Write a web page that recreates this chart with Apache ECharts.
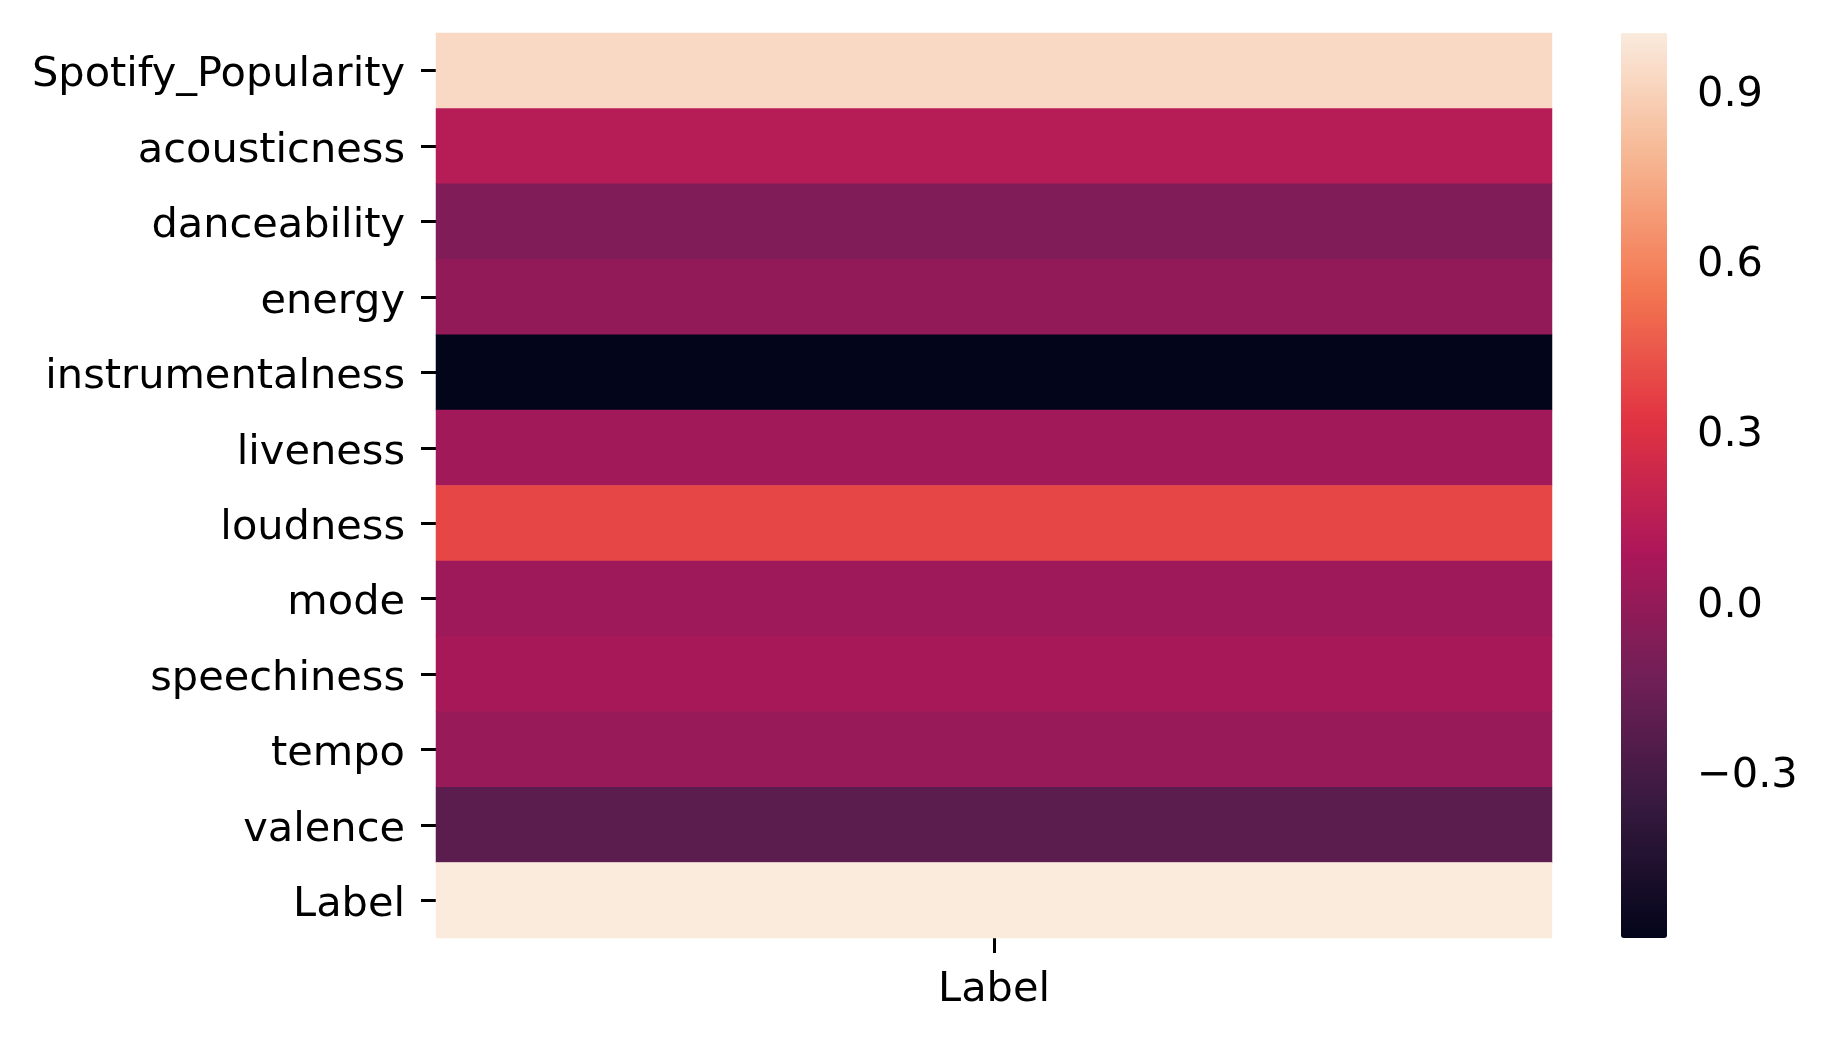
<!DOCTYPE html>
<html>
<head>
<meta charset="utf-8">
<script src="https://cdn.jsdelivr.net/npm/echarts@6/dist/echarts.min.js"></script>
<style>
html,body{margin:0;padding:0;background:#fff;}
#chart{width:1827px;height:1038px;}
</style>
</head>
<body>
<div id="chart"></div>
<script>
// Data
var features = ['Spotify_Popularity','acousticness','danceability','energy','instrumentalness','liveness','loudness','mode','speechiness','tempo','valence','Label'];
var columns = ['Label'];
var values = [0.925, 0.13, -0.08, -0.01, -0.594, 0.045, 0.38, 0.035, 0.065, 0.015, -0.22, 1.0];
var colorbarTicks = [-0.3, 0.0, 0.3, 0.6, 0.9];
var vMin = -0.594, vMax = 1.0;
var rocket = ['#03051a','#35193e','#701f57','#ad1759','#e13342','#f37651','#f6b48f','#faebdd'];

var heatData = values.map(function (v, i) { return [0, i, v]; });
var fontFamily = '"DejaVu Sans", sans-serif';
var fs = 41.5;

var chart = echarts.init(document.getElementById('chart'), null, {renderer: 'canvas'});
chart.setOption({
  backgroundColor: '#ffffff',
  animation: false,
  grid: [
    {left: 436, right: 275, top: 33, height: 905},
    {left: 1621, width: 46, top: 33, height: 905}
  ],
  xAxis: [
    {
      type: 'category', data: columns, gridIndex: 0, position: 'bottom',
      axisLine: {show: false},
      axisTick: {show: true, alignWithLabel: true, length: 15, lineStyle: {color: '#000', width: 3}},
      axisLabel: {color: '#000', fontSize: fs, fontFamily: fontFamily, margin: 31},
      splitLine: {show: false}
    },
    {type: 'value', gridIndex: 1, show: false, min: 0, max: 1}
  ],
  yAxis: [
    {
      type: 'category', data: features, gridIndex: 0, inverse: true,
      axisLine: {show: false},
      axisTick: {show: true, alignWithLabel: true, length: 15, lineStyle: {color: '#000', width: 3}},
      axisLabel: {color: '#000', fontSize: fs, fontFamily: fontFamily, margin: 31, verticalAlign: 'top', lineHeight: 10},
      splitLine: {show: false}
    },
    {
      type: 'value', gridIndex: 1, position: 'right', min: vMin, max: vMax,
      axisLine: {show: false},
      splitLine: {show: false},
      axisTick: {show: true, length: 15, customValues: colorbarTicks, lineStyle: {color: '#000', width: 3}},
      axisLabel: {
        show: true, customValues: colorbarTicks, margin: 30, verticalAlign: 'top', lineHeight: 10,
        color: '#000', fontSize: fs, fontFamily: fontFamily,
        formatter: function (v) { return (v < 0 ? '\u2212' : '') + Math.abs(v).toFixed(1); }
      }
    }
  ],
  visualMap: {
    type: 'continuous', seriesIndex: 0, min: vMin, max: vMax,
    calculable: false, orient: 'vertical',
    left: 1621, top: 33, itemWidth: 46, itemHeight: 905, padding: 0,
    text: null, showLabel: false,
    inRange: {color: rocket}
  },
  series: [
    {
      type: 'heatmap', xAxisIndex: 0, yAxisIndex: 0, data: heatData,
      itemStyle: {borderWidth: 0},
      emphasis: {disabled: true},
      label: {show: false}
    },
    {
      type: 'scatter', xAxisIndex: 1, yAxisIndex: 1, data: [], silent: true
    }
  ]
});
</script>
</body>
</html>
